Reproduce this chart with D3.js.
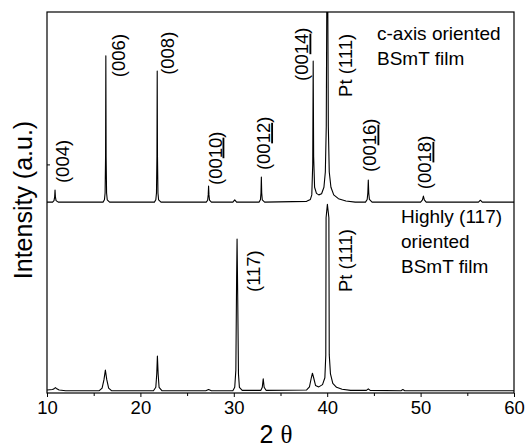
<!DOCTYPE html>
<html>
<head>
<meta charset="utf-8">
<script src="https://d3js.org/d3.v7.min.js"></script>
<style>
  body { margin: 0; background: #fff; }
  text { font-family: "Liberation Sans", Arial, sans-serif; fill: #000; }
</style>
</head>
<body>
<div id="chart"></div>
<script>
// 2θ ticks
var xTicks = [10, 20, 30, 40, 50, 60];
var xMinor = [15, 25, 35, 45, 55];

// c-axis oriented film, [2θ, intensity] (offset trace)
var upperTrace = [
  [10, 50.1], [10.6, 50.1], [10.75, 50.5], [10.82, 51.5], [10.86, 53.3], [10.9, 51.5], [10.97, 50.5], [11.2, 50.1],
  [16.0, 50.1], [16.15, 50.7], [16.22, 52.5], [16.27, 62], [16.3, 88.5], [16.33, 62], [16.38, 52.5], [16.45, 50.7], [16.7, 50.1],
  [21.5, 50.1], [21.65, 50.7], [21.72, 52.5], [21.77, 62], [21.8, 84.5], [21.83, 62], [21.88, 52.5], [21.95, 50.7], [22.2, 50.1],
  [27.05, 50.1], [27.2, 50.6], [27.26, 52], [27.3, 54.3], [27.34, 52], [27.4, 50.6], [27.6, 50.1],
  [29.9, 50.1], [30.1, 50.7], [30.3, 50.1],
  [32.7, 50.1], [32.85, 50.7], [32.91, 52.5], [32.95, 56.7], [32.99, 52.5], [33.05, 50.7], [33.3, 50.1],
  [37.8, 50.3], [38.2, 50.8], [38.35, 52], [38.45, 60], [38.5, 87.1], [38.55, 62], [38.65, 54], [38.85, 52.4],
  [39.1, 52], [39.4, 52.3], [39.65, 54], [39.8, 58], [39.9, 70], [39.97, 110], [40.05, 110], [40.12, 70],
  [40.22, 58], [40.4, 54], [40.7, 52], [41.2, 51], [42, 50.4], [43, 50.1],
  [44.1, 50.1], [44.28, 50.8], [44.35, 52.5], [44.4, 55.9], [44.45, 52.5], [44.52, 50.8], [44.8, 50.1],
  [50.0, 50.1], [50.2, 50.7], [50.3, 51.7], [50.4, 50.7], [50.6, 50.1],
  [56.2, 50.1], [56.4, 50.6], [56.6, 50.1],
  [60, 50.1]
];

// highly (117) oriented film
var lowerTrace = [
  [10, 0.8], [10.6, 0.9], [10.8, 1.2], [10.9, 1.4], [11.0, 1.2], [11.3, 0.8],
  [12, 0.6], [15.6, 0.6], [15.9, 1.3], [16.1, 3.5], [16.25, 6.0], [16.4, 3.5], [16.6, 1.3], [16.9, 0.6],
  [21.4, 0.6], [21.65, 1.5], [21.75, 5], [21.82, 9.7], [21.9, 5], [22.0, 1.5], [22.3, 0.6],
  [27.0, 0.6], [27.3, 0.9], [27.6, 0.6],
  [29.9, 0.6], [30.1, 1.5], [30.22, 6], [30.3, 30], [30.35, 40.4], [30.42, 25], [30.5, 5], [30.6, 1.5], [30.9, 0.7],
  [32.9, 0.7], [33.05, 1.5], [33.15, 3.7], [33.25, 1.5], [33.45, 0.7],
  [37.8, 0.8], [38.1, 1.6], [38.3, 4], [38.42, 5.2], [38.55, 4], [38.75, 2], [39.1, 1.6], [39.5, 2.2],
  [39.75, 4], [39.85, 10], [39.88, 46], [40.02, 49.5], [40.18, 46], [40.22, 10], [40.35, 5], [40.6, 2.5],
  [41, 1.5], [41.6, 1], [42.5, 0.7],
  [44.2, 0.7], [44.4, 1.1], [44.6, 0.7],
  [47.9, 0.6], [48.1, 0.9], [48.3, 0.6],
  [60, 0.6]
];

// peak labels: text before / underlined part / after, anchor in data coords
var peakLabels = [
  {pre: "(004)", u: "", post: "", x: 11.71, y: 55.1},
  {pre: "(006)", u: "", post: "", x: 17.71, y: 82.9},
  {pre: "(008)", u: "", post: "", x: 22.85, y: 83.5},
  {pre: "(00", u: "10", post: ")", x: 27.99, y: 54.6},
  {pre: "(00", u: "12", post: ")", x: 33.2, y: 58.5},
  {pre: "(00", u: "14", post: ")", x: 37.3, y: 81.9},
  {pre: "Pt (111)", u: "", post: "", x: 42.01, y: 77.7},
  {pre: "(00", u: "16", post: ")", x: 44.58, y: 58.0},
  {pre: "(00", u: "18", post: ")", x: 50.47, y: 53.5},
  {pre: "(117)", u: "", post: "", x: 32.16, y: 26.5},
  {pre: "Pt (111)", u: "", post: "", x: 42.01, y: 26.5}
];

var upperNote = ["c-axis oriented", "BSmT film"];
var lowerNote = ["Highly (117)", "oriented", "BSmT film"];

var width = 525, height = 447;
var mLeft = 47, mRight = 514, mTop = 12, mBottom = 393;

var svg = d3.select("#chart").append("svg")
    .attr("width", width)
    .attr("height", height);

var x = d3.scaleLinear().domain([10, 60]).range([mLeft, mRight]);
var y = d3.scaleLinear().domain([0, 100]).range([mBottom, mTop]);

svg.append("clipPath").attr("id", "plotclip")
  .append("rect")
    .attr("x", mLeft).attr("y", mTop)
    .attr("width", mRight - mLeft).attr("height", mBottom - mTop);

var line = d3.line()
    .x(function(d) { return x(d[0]); })
    .y(function(d) { return y(d[1]); });

[upperTrace, lowerTrace].forEach(function(tr) {
  svg.append("path")
      .datum(tr)
      .attr("clip-path", "url(#plotclip)")
      .attr("d", line)
      .attr("fill", "none")
      .attr("stroke", "#000")
      .attr("stroke-width", 1.1)
      .attr("stroke-linejoin", "round");
});

// frame
svg.append("rect")
    .attr("x", mLeft).attr("y", mTop)
    .attr("width", mRight - mLeft).attr("height", mBottom - mTop)
    .attr("fill", "none")
    .attr("stroke", "#000")
    .attr("stroke-width", 1.2);

// x axis
var xAxis = svg.append("g")
    .attr("transform", "translate(0," + mBottom + ")")
    .call(d3.axisBottom(x).tickValues(xTicks).tickSize(4).tickPadding(4).tickFormat(d3.format("d")));
xAxis.select(".domain").remove();
xAxis.selectAll("text")
    .attr("font-family", "Liberation Sans, Arial, sans-serif")
    .attr("font-size", 18.5);

svg.append("g")
    .attr("transform", "translate(0," + mBottom + ")")
    .call(d3.axisBottom(x).tickValues(xMinor).tickSize(3).tickFormat(""))
    .select(".domain").remove();

// single inner tick on the left
svg.append("g")
    .attr("transform", "translate(" + mLeft + ",0)")
    .call(d3.axisRight(y).tickValues([60]).tickSize(3).tickFormat(""))
    .select(".domain").remove();

// axis titles
svg.append("text")
    .attr("transform", "translate(32,200) rotate(-90)")
    .attr("text-anchor", "middle")
    .attr("font-size", 25)
    .text("Intensity (a.u.)");

var xt = svg.append("text")
    .attr("x", 276)
    .attr("y", 443)
    .attr("text-anchor", "middle")
    .attr("font-size", 25);
xt.append("tspan").text("2 ");
xt.append("tspan").attr("font-family", "Liberation Serif, serif").text("\u03b8");

// peak labels
peakLabels.forEach(function(p) {
  var t = svg.append("text")
      .attr("transform", "translate(" + x(p.x) + "," + y(p.y) + ") rotate(-90)")
      .attr("dy", "0.35em")
      .attr("font-size", 18.5);
  t.append("tspan").text(p.pre);
  if (p.u) {
    t.append("tspan").style("text-decoration", "underline").text(p.u);
    t.append("tspan").text(p.post);
  }
});

// notes
upperNote.forEach(function(s, i) {
  svg.append("text")
      .attr("x", 377).attr("y", 40 + i * 25)
      .attr("font-size", 19)
      .text(s);
});
lowerNote.forEach(function(s, i) {
  svg.append("text")
      .attr("x", 401).attr("y", 223 + i * 25)
      .attr("font-size", 19)
      .text(s);
});
</script>
</body>
</html>
